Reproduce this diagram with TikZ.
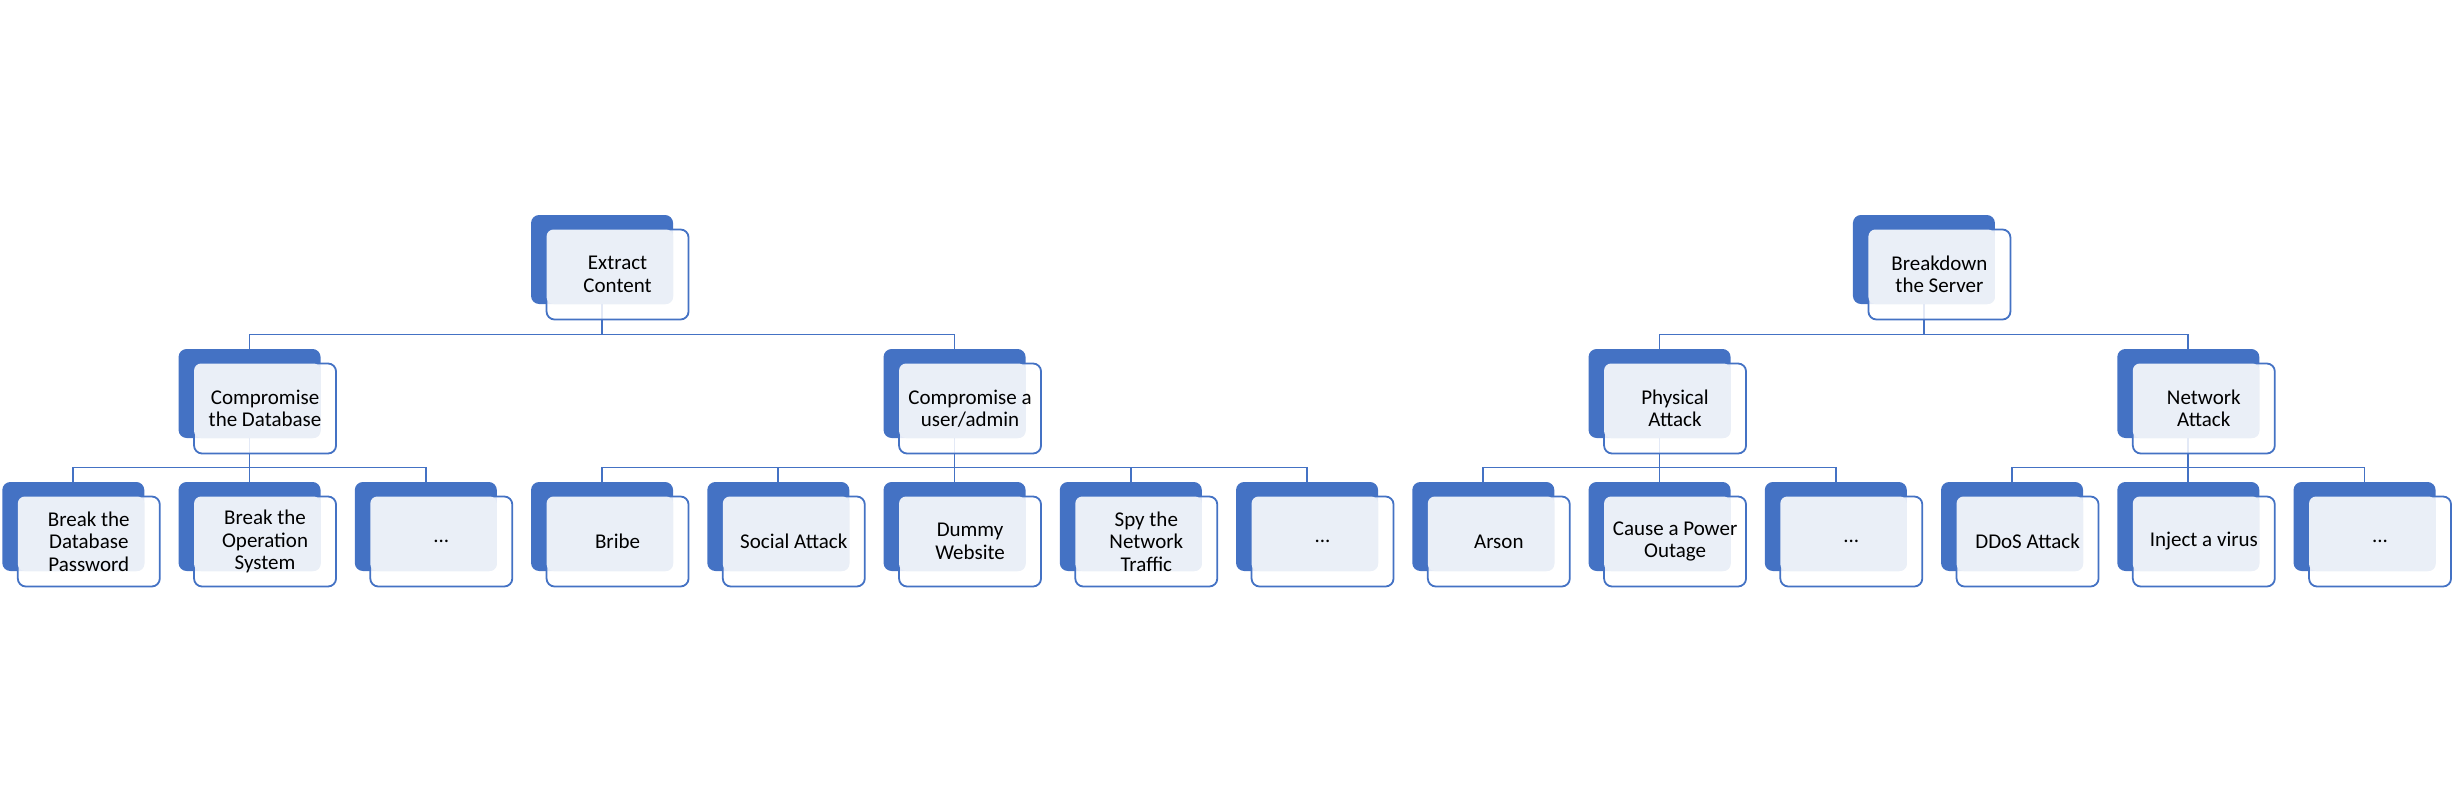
\documentclass[tikz,border=0pt]{standalone}
\usepackage{fontspec}
\setmainfont{Carlito}
\usetikzlibrary{calc}
\pgfdeclarelayer{background}
\pgfsetlayers{background,main}
\definecolor{accblue}{HTML}{4472C4}
\definecolor{lightfill}{HTML}{EAEFF7}
\tikzset{
  backbox/.style={fill=accblue, draw=none, rounded corners=8pt, minimum width=142pt, minimum height=89pt, inner sep=0pt, outer sep=0pt},
  frontbox/.style={fill=white, fill opacity=0.85, draw=accblue, draw opacity=1, line width=1.8pt, rounded corners=8pt, minimum width=142pt, minimum height=90pt, inner sep=0pt, outer sep=0pt},
  lightrect/.style={fill=lightfill, rounded corners=7pt},
  boxtext/.style={align=center, text=black, inner sep=0pt, font=\fontsize{21pt}{22.5pt}\selectfont},
  conn/.style={draw=accblue, line width=1.8pt}
}
% #1 name, #2 left of back box, #3 top of back box, #4 text
\newcommand\tbox[4]{%
  \node[backbox] (#1-bk) at ({#2+71},{#3+44.5}) {};
  \node[frontbox] (#1-fr) at ({#2+86.5},{#3+59.5}) {};
  \fill[lightrect] (#1-fr.north west) rectangle (#1-bk.south east);
  \node[boxtext] (#1) at (#1-fr.center) {#4};
}
\newcommand\Lk[1]{2.3+176.25*#1}
\begin{document}
\begin{tikzpicture}[x=1pt,y=-1pt]
\useasboundingbox (0,0) rectangle (2452,800);
\def\TA{215}
\def\TB{349}
\def\TC{482}
% roots
\tbox{r}{\Lk{3}}{\TA}{Extract\\Content}
\tbox{s}{\Lk{10.5}}{\TA}{Breakdown\\the Server}
% level 2
\tbox{a}{\Lk{1}}{\TB}{Compromise\\the Database}
\tbox{b}{\Lk{5}}{\TB}{Compromise a\\user/admin}
\tbox{c}{\Lk{9}}{\TB}{Physical\\Attack}
\tbox{d}{\Lk{12}}{\TB}{Network\\Attack}
% level 3
\tbox{a1}{\Lk{0}}{\TC}{Break the\\Database\\Password}
\tbox{a2}{\Lk{1}}{\TC}{Break the\\Operation\\System}
\tbox{a3}{\Lk{2}}{\TC}{...}
\tbox{b1}{\Lk{3}}{\TC}{Bribe}
\tbox{b2}{\Lk{4}}{\TC}{Social Attack}
\tbox{b3}{\Lk{5}}{\TC}{Dummy\\Website}
\tbox{b4}{\Lk{6}}{\TC}{Spy the\\Network\\Traffic}
\tbox{b5}{\Lk{7}}{\TC}{...}
\tbox{c1}{\Lk{8}}{\TC}{Arson}
\tbox{c2}{\Lk{9}}{\TC}{Cause a Power\\Outage}
\tbox{c3}{\Lk{10}}{\TC}{...}
\tbox{d1}{\Lk{11}}{\TC}{DDoS Attack}
\tbox{d2}{\Lk{12}}{\TC}{Inject a virus}
\tbox{d3}{\Lk{13}}{\TC}{...}
\begin{pgfonlayer}{background}
  \foreach \p/\c in {r/a,r/b,s/c,s/d}{
    \draw[conn] (\p-bk.south) -- ++(0,30.5) -| (\c-bk.north);
  }
  \foreach \p/\c in {a/a1,a/a2,a/a3,b/b1,b/b2,b/b3,b/b4,b/b5,c/c1,c/c2,c/c3,d/d1,d/d2,d/d3}{
    \draw[conn] (\p-bk.south) -- ++(0,29.5) -| (\c-bk.north);
  }
\end{pgfonlayer}
\end{tikzpicture}
\end{document}
